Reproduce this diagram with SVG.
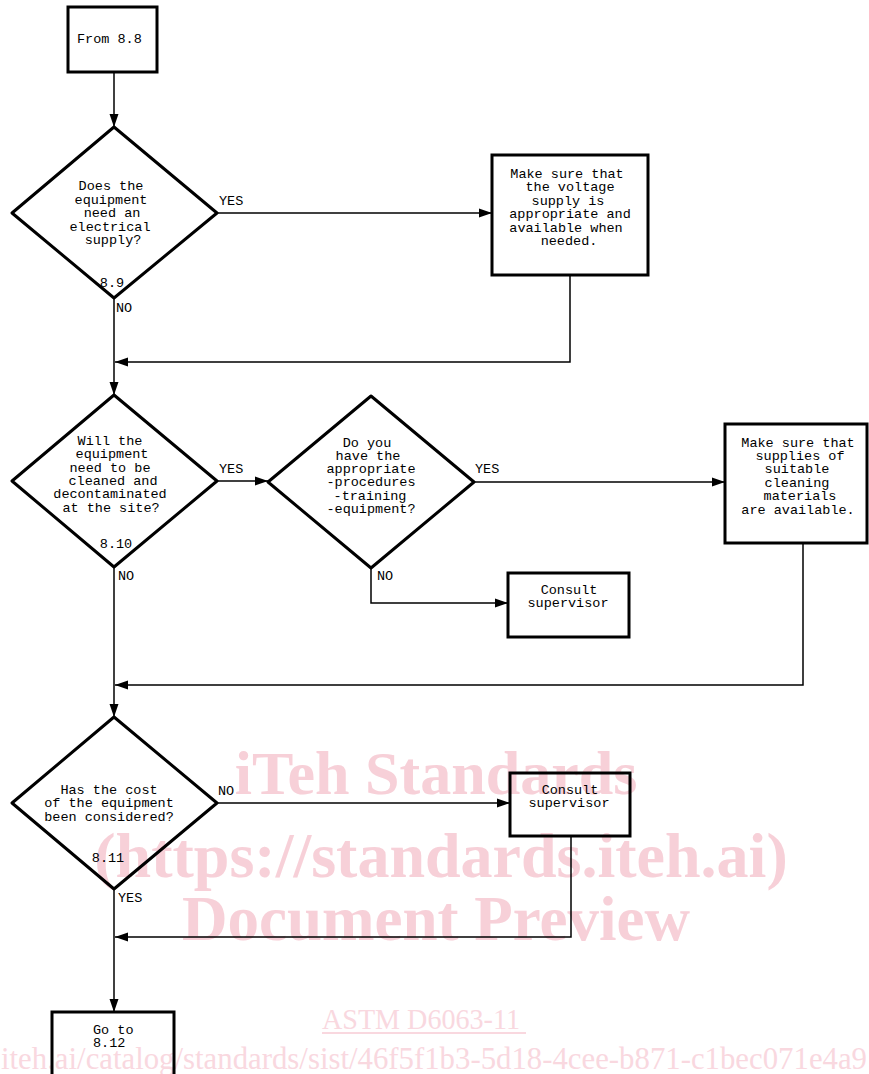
<svg xmlns="http://www.w3.org/2000/svg" width="869" height="1074" viewBox="0 0 869 1074">
  <defs>
    <marker id="arrow" markerUnits="userSpaceOnUse" markerWidth="14" markerHeight="10" refX="13" refY="5" orient="auto">
      <path d="M0,0.5 L13,5 L0,9.5 Z" fill="#000"/>
    </marker>
    <style>
      .wm { font-family: "Liberation Serif", "Times New Roman", serif; font-weight: bold; fill: #f7d0d8; }
      .wm2 { font-family: "Liberation Serif", "Times New Roman", serif; fill: #f9d8df; }
      .box { fill: none; stroke: #000; stroke-width: 3; }
      .dia { fill: none; stroke: #000; stroke-width: 3; stroke-linejoin: round; }
      .conn { fill: none; stroke: #000; stroke-width: 1.5; marker-end: url(#arrow); }
      .t { font-family: "Liberation Mono", "DejaVu Sans Mono", monospace; font-size: 13.5px; fill: #000; }
      .c { text-anchor: middle; }
    </style>
  </defs>
  <rect width="869" height="1074" fill="#fff"/>

  <!-- background watermark -->
  <g id="watermark">
    <text class="wm" x="436" y="794" font-size="62" text-anchor="middle">iTeh Standards</text>
    <text class="wm" x="441" y="877" font-size="64" text-anchor="middle">(https://standards.iteh.ai)</text>
    <text class="wm" x="436" y="940" font-size="63" text-anchor="middle">Document Preview</text>
    <text class="wm2" x="322" y="1029" font-size="30" textLength="198" lengthAdjust="spacingAndGlyphs">ASTM D6063-11</text>
    <line x1="322" y1="1033" x2="526" y2="1033" stroke="#f9d8df" stroke-width="2"/>
    <text class="wm2" x="1" y="1069" font-size="31" textLength="866" lengthAdjust="spacingAndGlyphs">iteh.ai/catalog/standards/sist/46f5f1b3-5d18-4cee-b871-c1bec071e4a9</text>
  </g>

  <!-- connectors -->
  <g id="connectors">
    <path class="conn" d="M114,72 V127"/>
    <path class="conn" d="M217,213 H492"/>
    <path class="conn" d="M570,275 V362 H115"/>
    <path class="conn" d="M114,298 V395"/>
    <path class="conn" d="M217,481 H268"/>
    <path class="conn" d="M474,482 H725"/>
    <path class="conn" d="M371,568 V603 H508"/>
    <path class="conn" d="M803,543 V685 H115"/>
    <path class="conn" d="M114,567 V717"/>
    <path class="conn" d="M217,803 H510"/>
    <path class="conn" d="M571,836 V937 H115"/>
    <path class="conn" d="M114,889 V1012"/>
  </g>

  <!-- start -->
  <g id="start">
    <rect class="box" x="68" y="7" width="89" height="65"/>
    <text class="t" x="77" y="43">From 8.8</text>
  </g>

  <!-- 8.9 electrical supply -->
  <g id="q-electrical">
    <polygon class="dia" points="114,127 217,213 114,298 12,213"/>
    <text class="t c" x="111" y="190">Does the</text>
    <text class="t c" x="111" y="204">equipment</text>
    <text class="t c" x="112" y="217">need an</text>
    <text class="t c" x="110" y="231">electrical</text>
    <text class="t c" x="113" y="244">supply?</text>
    <text class="t c" x="112" y="287">8.9</text>
    <text class="t" x="219" y="205">YES</text>
    <text class="t" x="116" y="312">NO</text>
  </g>

  <g id="voltage">
    <rect class="box" x="492" y="155" width="156" height="120"/>
    <text class="t c" x="567" y="178">Make sure that</text>
    <text class="t c" x="570" y="191">the voltage</text>
    <text class="t c" x="568" y="205">supply is</text>
    <text class="t c" x="570" y="218">appropriate and</text>
    <text class="t c" x="566" y="232">available when</text>
    <text class="t c" x="569" y="245">needed.</text>
  </g>

  <!-- 8.10 cleaning -->
  <g id="q-clean">
    <polygon class="dia" points="114,395 217,481 114,567 12,481"/>
    <text class="t c" x="110" y="445">Will the</text>
    <text class="t c" x="112" y="458">equipment</text>
    <text class="t c" x="110" y="472">need to be</text>
    <text class="t c" x="113" y="485">cleaned and</text>
    <text class="t c" x="110" y="498">decontaminated</text>
    <text class="t c" x="111" y="512">at the site?</text>
    <text class="t c" x="116" y="548">8.10</text>
    <text class="t" x="219" y="473">YES</text>
    <text class="t" x="118" y="580">NO</text>
  </g>

  <g id="q-procedures">
    <polygon class="dia" points="371,396 474,482 371,568 268,482"/>
    <text class="t c" x="367" y="447">Do you</text>
    <text class="t c" x="368" y="460">have the</text>
    <text class="t c" x="371" y="473">appropriate</text>
    <text class="t c" x="371" y="486">-procedures</text>
    <text class="t c" x="370" y="500">-training</text>
    <text class="t c" x="371" y="513">-equipment?</text>
    <text class="t" x="475" y="473">YES</text>
    <text class="t" x="377" y="580">NO</text>
  </g>

  <g id="supplies">
    <rect class="box" x="725" y="424" width="142" height="119"/>
    <text class="t c" x="798" y="447">Make sure that</text>
    <text class="t c" x="800" y="460">supplies of</text>
    <text class="t c" x="797" y="473">suitable</text>
    <text class="t c" x="797" y="487">cleaning</text>
    <text class="t c" x="800" y="500">materials</text>
    <text class="t c" x="798" y="514">are available.</text>
  </g>

  <g id="consult-1">
    <rect class="box" x="508" y="573" width="121" height="64"/>
    <text class="t c" x="569" y="594">Consult</text>
    <text class="t c" x="568" y="607">supervisor</text>
  </g>

  <!-- 8.11 cost -->
  <g id="q-cost">
    <polygon class="dia" points="114,717 217,803 114,889 12,803"/>
    <text class="t c" x="109" y="794">Has the cost</text>
    <text class="t c" x="109" y="807">of the equipment</text>
    <text class="t c" x="109" y="821">been considered?</text>
    <text class="t c" x="108" y="862">8.11</text>
    <text class="t" x="218" y="795">NO</text>
    <text class="t" x="118" y="902">YES</text>
  </g>

  <g id="consult-2">
    <rect class="box" x="510" y="773" width="120" height="63"/>
    <text class="t c" x="570" y="794">Consult</text>
    <text class="t c" x="569" y="807">supervisor</text>
  </g>

  <g id="end">
    <rect class="box" x="52" y="1012" width="122" height="70"/>
    <text class="t" x="93" y="1034">Go to</text>
    <text class="t" x="93" y="1047">8.12</text>
  </g>
</svg>
